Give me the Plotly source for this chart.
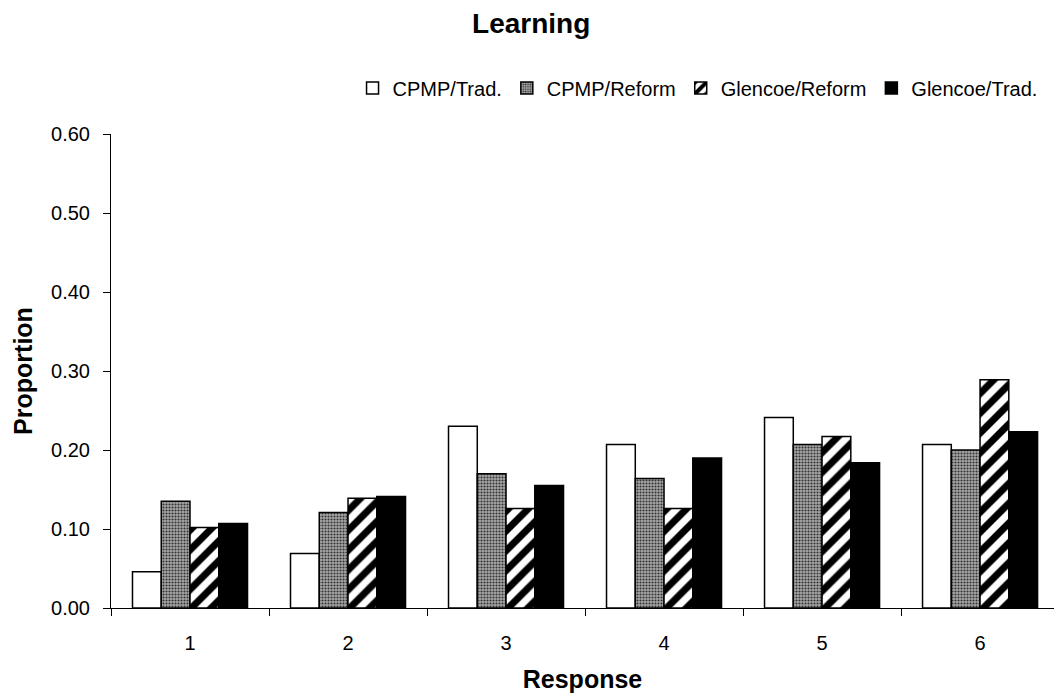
import plotly.graph_objects as go

categories = ["1", "2", "3", "4", "5", "6"]
cpmp_trad = [0.046, 0.069, 0.230, 0.207, 0.241, 0.207]
cpmp_reform = [0.135, 0.121, 0.170, 0.164, 0.207, 0.200]
glencoe_reform = [0.102, 0.139, 0.126, 0.126, 0.217, 0.289]
glencoe_trad = [0.107, 0.141, 0.155, 0.190, 0.184, 0.223]
y_ticks = [0.0, 0.1, 0.2, 0.3, 0.4, 0.5, 0.6]

FONT = "Liberation Sans, Arial, sans-serif"
line = dict(color="black", width=1.5)

fig = go.Figure()
fig.add_bar(name="CPMP/Trad.", x=categories, y=cpmp_trad,
            marker=dict(color="white", line=line))
fig.add_bar(name="CPMP/Reform", x=categories, y=cpmp_reform,
            marker=dict(color="#888888", line=line,
                        pattern=dict(shape=".", fgcolor="#333333", bgcolor="#a8a8a8",
                                     size=3, solidity=0.4, fgopacity=1)))
fig.add_bar(name="Glencoe/Reform", x=categories, y=glencoe_reform,
            marker=dict(color="white", line=line,
                        pattern=dict(shape="/", fgcolor="black", bgcolor="white",
                                     size=14, solidity=0.5, fgopacity=1)))
fig.add_bar(name="Glencoe/Trad.", x=categories, y=glencoe_trad,
            marker=dict(color="black", line=line))

fig.update_layout(
    width=1054, height=698,
    paper_bgcolor="white", plot_bgcolor="white",
    font=dict(family=FONT, size=20, color="black"),
    title=dict(text="<b>Learning</b>", x=0.504, xanchor="center", y=0.967, yanchor="middle",
               font=dict(size=28, family=FONT)),
    margin=dict(l=111, r=0, t=134, b=90),
    barmode="group", bargap=0.272, bargroupgap=0,
    showlegend=True,
    legend=dict(orientation="h", x=0.622, xanchor="center", y=1.097, yanchor="middle",
                font=dict(size=20, family=FONT), itemwidth=30,
                traceorder="normal", bgcolor="rgba(0,0,0,0)"),
    xaxis=dict(title=dict(text="<b>Response</b>", font=dict(size=25), standoff=17),
               range=[-0.5, 5.468],
               showline=True, linecolor="black", linewidth=1,
               ticks="outside", ticklen=7, tickcolor="black", tickson="boundaries",
               ticklabelstandoff=17,
               showgrid=False, tickfont=dict(size=20)),
    yaxis=dict(title=dict(text="<b>Proportion</b>", font=dict(size=25), standoff=11),
               range=[0, 0.6], tickvals=y_ticks, tickformat=".2f",
               showline=True, linecolor="black", linewidth=1,
               ticks="outside", ticklen=7, tickcolor="black",
               ticklabelstandoff=9,
               showgrid=False, zeroline=False, tickfont=dict(size=20)),
)

fig.write_html("out.html")
